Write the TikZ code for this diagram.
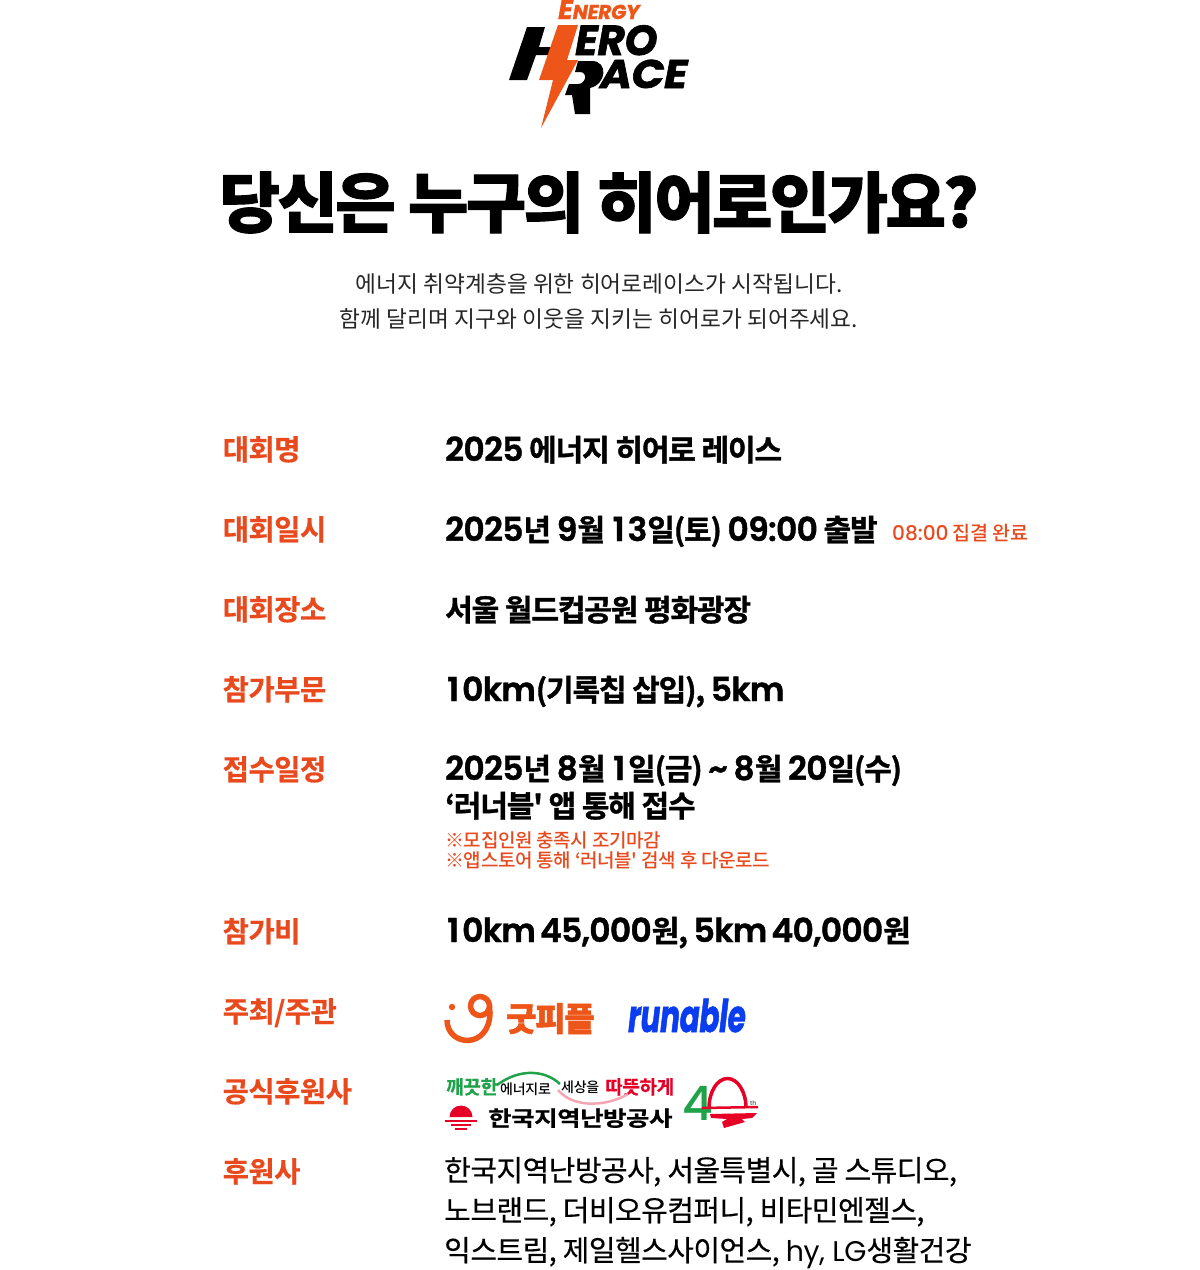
\documentclass[tikz,border=0pt]{standalone}
\usepackage{fontspec}
\usepackage{tikz}
\setmainfont{Noto Sans CJK KR}
\newfontfamily\krlight{Noto Sans CJK KR}[LetterSpace=.2]
\newfontfamily\krreg{Noto Sans CJK KR}[LetterSpace=-1.9,FakeBold=.3]
\newfontfamily\krmed{Noto Sans CJK KR Medium}[LetterSpace=-1.8]
\newfontfamily\krbold{Noto Sans CJK KR Bold}[LetterSpace=-3.8,FakeBold=1.2]
\newfontfamily\krlabel{Noto Sans CJK KR Bold}[LetterSpace=-1.6,FakeBold=.6]
\newfontfamily\krblack{Noto Sans CJK KR Black}[LetterSpace=-3.9,FakeBold=1.5]
\newfontfamily\ltbold{Poppins}[UprightFont=* SemiBold,ItalicFont=* Bold Italic,LetterSpace=-2.2,Scale=1.1,FakeBold=1.2]
\newfontfamily\ltlogo{Poppins}[UprightFont=* Bold,ItalicFont=* Bold Italic,LetterSpace=-1,FakeBold=1.5]
\newfontfamily\ltmed{Poppins Medium}[LetterSpace=-.4,Scale=1.03]
\newfontfamily\ltreg{Poppins}[LetterSpace=-1,Scale=.98]
\newcommand{\ltn}[1]{{\ltbold #1}}
\newcommand{\onek}[1]{\kern2pt #1\kern3pt}
\definecolor{heroorange}{HTML}{E8491D}
\definecolor{boltorange}{HTML}{EE5518}
\definecolor{runblue}{HTML}{0A3CF0}
\definecolor{koggreen}{HTML}{1FA24A}
\definecolor{kogred}{HTML}{E60026}
\tikzset{>=latex}
\tikzset{
  rowlabel/.style={anchor=base west,inner sep=0pt,text=heroorange,font=\krlabel\fontsize{28.5}{28}\selectfont},
  rowvalue/.style={anchor=base west,inner sep=0pt,font=\krbold\fontsize{30}{30}\selectfont},
  rownote/.style={anchor=base west,inner sep=0pt,text=heroorange,font=\krmed\fontsize{19}{19}\selectfont},
  intro/.style={anchor=base,inner sep=0pt,text=black!85,font=\krlight\fontsize{22.7}{23}\selectfont},
  sponsor/.style={anchor=base west,inner sep=0pt,font=\krreg\fontsize{29}{29}\selectfont},
  logotext/.style={anchor=base west,inner sep=0pt}
}
\begin{document}
\begin{tikzpicture}[x=1pt,y=-1pt]
  \useasboundingbox (0,0) rectangle (1200,1270);
  % logo
  \node[logotext,text=boltorange,font=\ltlogo\itshape\fontsize{20}{20}\selectfont] (energy) at (558,19) {{\fontsize{27}{27}\selectfont E}NERGY};
  \fill (527,27) -- (545,27) -- (539,47) -- (552,47) -- (549,55) -- (536,55) -- (527,80) -- (509,80) -- cycle;
  \node[logotext,font=\ltlogo\itshape\fontsize{42}{42}\selectfont,text height=30pt,text depth=0pt] (hero) at (575,55) {ERO};
  \node[logotext,font=\ltlogo\itshape\fontsize{40}{40}\selectfont,xscale=1.08,text height=28pt,text depth=0pt] (race) at (600,88) {ACE};
  \fill (578,61) -- (592,61) .. controls (608,61) and (607,84) .. (590,88) -- (590,114) -- (575,114) -- (572,95) -- (565,95) -- (569,84) -- (578,84) .. controls (586,84) and (588,72) .. (580,72) -- (575,72) -- cycle;
  \fill[boltorange] (558,25) -- (578,25) -- (567,60) -- (578,60) -- (541,128) -- (553,80) -- (539,80) -- cycle;
  % title
  \node[anchor=base,inner sep=0pt,font=\krblack\fontsize{65.6}{66}\selectfont] (title) at (599,227) {당신은 누구의 히어로인가요?};
  \node[intro] (introa) at (599,292) {에너지 취약계층을 위한 히어로레이스가 시작됩니다.};
  \node[intro] (introb) at (599,327) {함께 달리며 지구와 이웃을 지키는 히어로가 되어주세요.};
  % rows
  \node[rowlabel] (name) at (222.5,460) {대회명};
  \node[rowvalue] (nameval) at (445,461) {\ltn{2025} 에너지 히어로 레이스};
  \node[rowlabel] (date) at (222.5,540) {대회일시};
  \node[rowvalue] (dateval) at (445,541) {\ltn{2025}년 \ltn{9}월 \ltn{\onek{1}3}일(토) \ltn{09:00} 출발};
  \node[rownote,font=\krmed\fontsize{19.6}{20}\selectfont] (datenote) at (892,540) {{\ltmed 08:00} 집결 완료};
  \node[rowlabel] (place) at (222.5,620) {대회장소};
  \node[rowvalue] (placeval) at (445,621) {서울 월드컵공원 평화광장};
  \node[rowlabel] (part) at (222.5,700) {참가부문};
  \node[rowvalue] (partval) at (445,701) {\ltn{\onek{1}0km}(기록칩 삽입), \ltn{5km}};
  \node[rowlabel] (entry) at (222.5,780) {접수일정};
  \node[rowvalue] (entryval) at (445,780) {\ltn{2025}년 \ltn{8}월 \ltn{\onek{1}}일(금) \ltn{\textasciitilde} \ltn{8}월 \ltn{20}일(수)};
  \node[rowvalue] (entryapp) at (445,817) {‘러너블' 앱 통해 접수};
  \node[rownote] (notea) at (445,847) {※모집인원 충족시 조기마감};
  \node[rownote] (noteb) at (445,867) {※앱스토어 통해 ‘러너블' 검색 후 다운로드};
  \node[rowlabel] (fee) at (222.5,942) {참가비};
  \node[rowvalue] (feeval) at (445,942) {\ltn{\onek{1}0km\kern-3pt\ 45,000}원, \ltn{5km\kern-3pt\ 40,000}원};
  \node[rowlabel] (host) at (222.5,1022) {주최/주관};
  \node[rowlabel] (official) at (222.5,1102) {공식후원사};
  \node[rowlabel] (sponsors) at (222.5,1182) {후원사};
  \node[sponsor] (sponsa) at (444,1181) {한국지역난방공사, 서울특별시, 골 스튜디오,};
  \node[sponsor] (sponsb) at (444,1221) {노브랜드, 더비오유컴퍼니, 비타민엔젤스,};
  \node[sponsor] (sponsc) at (444,1261) {익스트림, 제일헬스사이언스, {\ltreg hy, LG}생활건강};
  % goodpeople logo
  \fill[boltorange] (452,1007) circle [radius=3.2];
  \draw[boltorange,line width=5.5pt] (447,1020) .. controls (447,1047) and (490,1050) .. (490,1012);
  \draw[boltorange,line width=5.5pt] (480,1006) circle [radius=9.5];
  \draw[boltorange,line width=5.5pt] (489.5,1006) -- (490,1014);
  \node[logotext,text=boltorange,font=\krblack\fontsize{33}{33}\selectfont] (goodpeople) at (506,1031) {굿피플};
  \node[logotext,text=runblue,font=\ltlogo\itshape\fontsize{36}{36}\selectfont,yscale=1.25,xscale=.82] (runable) at (628,1032) {runable};
  % kogas logo
  \node[logotext,text=koggreen,font=\krlabel\fontsize{19}{19}\selectfont] (clean) at (446,1094) {깨끗한};
  \node[logotext,font=\krmed\fontsize{14}{14}\selectfont] (energyto) at (500,1094) {에너지로};
  \node[logotext,font=\krmed\fontsize{14}{14}\selectfont] (world) at (561,1092) {세상을};
  \node[logotext,text=kogred,font=\krlabel\fontsize{19}{19}\selectfont] (warm) at (605,1094) {따뜻하게};
  \draw[koggreen,line width=2.5pt] (497,1085) .. controls (520,1068) and (545,1070) .. (560,1084);
  \draw[kogred!35,line width=2.5pt] (558,1090) .. controls (575,1110) and (610,1105) .. (628,1094);
  \fill[kogred] (449.5,1117) arc [start angle=180,end angle=360,radius=11.5] -- cycle;
  \draw[kogred,line width=1.8pt] (445,1121) -- (477,1121) (451,1125) -- (471,1125) (455,1129) -- (467,1129);
  \node[logotext,font=\krlabel\fontsize{21}{21}\selectfont,xscale=1.21] (kogas) at (488,1126) {한국지역난방공사};
  \node[logotext,text=koggreen,font=\ltmed\fontsize{46}{46}\selectfont] (forty) at (682,1120) {4};
  \draw[kogred,line width=3.5pt] (709,1108) arc [start angle=180,end angle=360,x radius=18.5,y radius=29.5];
  \draw[kogred,line width=2.5pt] (702,1108) -- (758,1107);
  \fill[kogred] (710,1114) -- (757,1113) -- (752,1118) -- (742,1119) -- (745,1122) -- (724,1128) -- (722,1122) -- (727,1119) -- (711,1118) -- cycle;
  \node[logotext,font=\ltmed\fontsize{6}{6}\selectfont,text=black!70] (th) at (750,1105) {th};
\end{tikzpicture}
\end{document}
